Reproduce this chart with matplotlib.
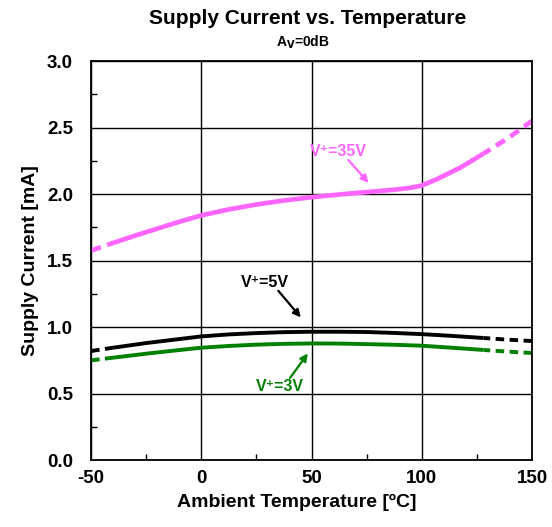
import numpy as np
import matplotlib.pyplot as plt
from matplotlib.ticker import MultipleLocator, FormatStrFormatter

plt.rcParams['font.family'] = ['Liberation Sans', 'DejaVu Sans']
plt.rcParams['font.weight'] = 'bold'
plt.rcParams['axes.unicode_minus'] = False

# data
temp_35 = [-50, -42, -30, -20, -10, 0, 12.5, 25, 37.5, 50, 62.5, 75, 87.5, 95, 100, 106.5, 117.5, 128, 138.5, 150]
i_35v = [1.575, 1.622, 1.688, 1.74, 1.792, 1.84, 1.885, 1.922, 1.952, 1.977, 1.997, 2.015, 2.033, 2.048, 2.065, 2.11, 2.2, 2.305, 2.415, 2.55]
temp = [-50, -40, -25, -12.5, 0, 12.5, 25, 37.5, 50, 62.5, 75, 87.5, 100, 112.5, 128, 137.5, 150]
i_5v = [0.82, 0.845, 0.88, 0.905, 0.93, 0.945, 0.955, 0.962, 0.965, 0.965, 0.963, 0.956, 0.947, 0.935, 0.918, 0.907, 0.895]
i_3v = [0.75, 0.77, 0.80, 0.823, 0.845, 0.858, 0.868, 0.874, 0.877, 0.876, 0.872, 0.867, 0.86, 0.846, 0.828, 0.817, 0.805]
solid_lo, solid_hi = -40, 128

pink = '#ff66ff'
green = '#008000'
series = [
    (temp_35, i_35v, pink, 3.4),
    (temp, i_5v, 'black', 2.8),
    (temp, i_3v, green, 2.8),
]

fig = plt.figure(figsize=(5.52, 5.27), dpi=100)
ax = fig.add_axes([0.165, 0.127, 0.799, 0.757])

for tt, vals, col, lw in series:
    t = np.array(tt)
    v = np.array(vals)
    lo = t <= solid_lo
    if not lo[1:].any():
        lo[1] = True
    hi = t >= solid_hi
    mid = (t >= t[lo][-1]) & (t <= solid_hi)
    ax.plot(t[lo], v[lo], color=col, lw=lw, ls=(0, (2.2, 1.4)), dash_capstyle='butt')
    ax.plot(t[hi], v[hi], color=col, lw=lw, ls=(0.5, (2.2, 1.4)), dash_capstyle='butt')
    ax.plot(t[mid], v[mid], color=col, lw=lw, solid_capstyle='butt', solid_joinstyle='round')

ax.set_xlim(-50, 150)
ax.set_ylim(0, 3.0)
ax.xaxis.set_major_locator(MultipleLocator(50))
ax.xaxis.set_minor_locator(MultipleLocator(25))
ax.yaxis.set_major_locator(MultipleLocator(0.5))
ax.yaxis.set_minor_locator(MultipleLocator(0.25))
ax.yaxis.set_major_formatter(FormatStrFormatter('%.1f'))
ax.xaxis.set_major_formatter(FormatStrFormatter('%d'))
ax.grid(True, which='major', color='black', lw=1)
ax.tick_params(which='major', length=0, labelsize=13.5)
ax.tick_params(axis='y', which='major', pad=13)
ax.tick_params(axis='x', which='major', pad=7)
ax.tick_params(which='minor', direction='in', length=4, width=1)
for s in ax.spines.values():
    s.set_linewidth(1.3)
for lab in ax.get_xticklabels() + ax.get_yticklabels():
    lab.set_fontweight('bold')

ax.set_xlabel('Ambient Temperature [ºC]', fontsize=14, fontweight='bold')
ax.xaxis.set_label_coords(0.466, -0.085)
ax.set_ylabel('Supply Current [mA]', fontsize=14, fontweight='bold', labelpad=6)

fig.text(0.558, 0.965, 'Supply Current vs. Temperature', ha='center', va='center',
         fontsize=15, fontweight='bold')
fig.text(0.549, 0.920, r'A$_\mathbf{V}$=0dB', ha='center', va='center', fontsize=10, fontweight='bold')

labels = [
    ('V⁺=35V', (62, 2.32), (66.7, 2.256), (75.8, 2.085), pink),
    ('V⁺=5V', (28.7, 1.335), (34.9, 1.273), (45.1, 1.073), 'black'),
    ('V⁺=3V', (35.7, 0.55), (40.2, 0.617), (48.3, 0.802), green),
]
for txt, pos, tail, head, col in labels:
    ax.text(pos[0], pos[1], txt, ha='center', va='center', color=col, fontsize=11.5, fontweight='bold')
    ax.annotate('', xy=head, xytext=tail,
                arrowprops=dict(arrowstyle='-|>', color=col, lw=1.6, shrinkA=0, shrinkB=0,
                                mutation_scale=11))

fig.savefig('out.png', dpi=100)
